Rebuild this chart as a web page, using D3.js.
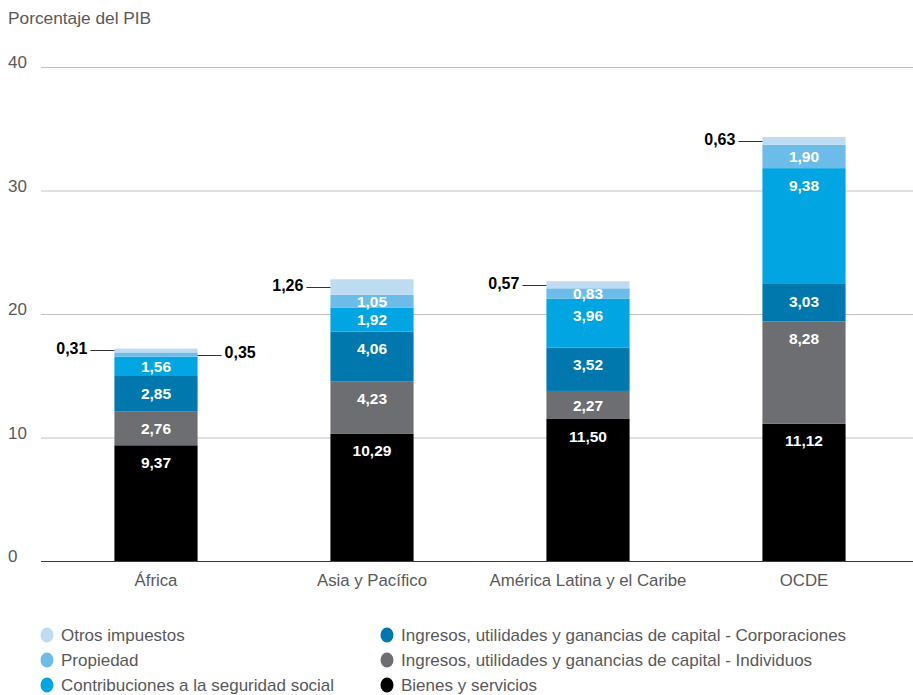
<!DOCTYPE html>
<html lang="es">
<head>
<meta charset="UTF-8">
<title>Porcentaje del PIB</title>
<style>
    body { margin: 0; background: #fff; }
    text { font-family: "Liberation Sans", Arial, sans-serif; }
</style>
</head>
<body>
<script src="https://d3js.org/d3.v7.min.js"></script>
<script>
    // data
    const categories = ["África", "Asia y Pacífico", "América Latina y el Caribe", "OCDE"];
    const bienes = [9.37, 10.29, 11.50, 11.12];
    const individuos = [2.76, 4.23, 2.27, 8.28];
    const corporaciones = [2.85, 4.06, 3.52, 3.03];
    const seguridad = [1.56, 1.92, 3.96, 9.38];
    const propiedad = [0.35, 1.05, 0.83, 1.90];
    const otros = [0.31, 1.26, 0.57, 0.63];
    const yTicks = [0, 10, 20, 30, 40];

    // stack order bottom -> top
    const series = [
        {key: "bienes", name: "Bienes y servicios", values: bienes, color: "#000000"},
        {key: "individuos", name: "Ingresos, utilidades y ganancias de capital - Individuos", values: individuos, color: "#6d6e71"},
        {key: "corporaciones", name: "Ingresos, utilidades y ganancias de capital - Corporaciones", values: corporaciones, color: "#0078ad"},
        {key: "seguridad", name: "Contribuciones a la seguridad social", values: seguridad, color: "#00a5e1"},
        {key: "propiedad", name: "Propiedad", values: propiedad, color: "#6cbce9"},
        {key: "otros", name: "Otros impuestos", values: otros, color: "#bddcf2"}
    ];

    const width = 913;
    const height = 695;
    const textGrey = "#58595b";

    const es = d3.formatLocale({decimal: ",", thousands: ".", grouping: [3], currency: ["", ""]});
    const fmt = es.format(".2f");

    const rows = categories.map((c, i) => {
        const r = {cat: c};
        series.forEach(s => r[s.key] = s.values[i]);
        return r;
    });
    const stacked = d3.stack().keys(series.map(s => s.key))(rows);

    const svg = d3.select("body").append("svg")
        .attr("width", width)
        .attr("height", height);

    const x = d3.scaleBand()
        .domain(categories)
        .range([48, 912])
        .paddingInner(0.615)
        .paddingOuter(0.3075);

    const y = d3.scaleLinear()
        .domain([0, 40])
        .range([561, 67]);

    // title
    svg.append("text")
        .attr("x", 8)
        .attr("y", 24)
        .attr("fill", textGrey)
        .style("font-size", "17.3px")
        .text("Porcentaje del PIB");

    // grid + y labels
    const grid = svg.append("g");
    grid.selectAll("line")
        .data(yTicks)
        .enter()
        .append("line")
        .attr("x1", 41)
        .attr("x2", width)
        .attr("y1", d => y(d) + 0.5)
        .attr("y2", d => y(d) + 0.5)
        .attr("stroke", d => d === 0 ? "#3a3a3a" : "#c2c2c2")
        .attr("stroke-width", 1);
    grid.selectAll("text")
        .data(yTicks)
        .enter()
        .append("text")
        .attr("x", 8)
        .attr("y", d => y(d) + 1)
        .attr("fill", textGrey)
        .style("font-size", "17px")
        .text(d => d);

    // bars
    const layers = svg.append("g").selectAll("g")
        .data(stacked)
        .enter()
        .append("g")
        .attr("fill", (d, i) => series[i].color);

    layers.selectAll("rect")
        .data(d => d)
        .enter()
        .append("rect")
        .attr("x", d => x(d.data.cat))
        .attr("y", d => y(d[1]))
        .attr("width", x.bandwidth())
        .attr("height", d => y(d[0]) - y(d[1]));

    // value labels
    const labels = svg.append("g");
    stacked.forEach((layer, si) => {
        layer.forEach(d => {
            const v = d[1] - d[0];
            const top = y(d[1]);
            const h = y(d[0]) - y(d[1]);
            const cx = x(d.data.cat);
            const mid = (y(d[0]) + y(d[1])) / 2;
            if (series[si].key === "otros" || v < 0.5) {
                // outside label with leader
                const left = series[si].key === "otros";
                const x0 = left ? cx : cx + x.bandwidth();
                const x1 = left ? x0 - 24 : x0 + 24;
                labels.append("line")
                    .attr("x1", x0).attr("x2", x1)
                    .attr("y1", Math.round(mid) + 0.5).attr("y2", Math.round(mid) + 0.5)
                    .attr("stroke", "#333")
                    .attr("stroke-width", 1);
                labels.append("text")
                    .attr("x", left ? x1 - 3 : x1 + 3)
                    .attr("y", mid - 2)
                    .attr("dy", "0.36em")
                    .attr("text-anchor", left ? "end" : "start")
                    .attr("fill", "#000")
                    .style("font-size", "16px")
                    .style("font-weight", "bold")
                    .text(fmt(v));
            } else {
                labels.append("text")
                    .attr("x", cx + x.bandwidth() / 2)
                    .attr("y", top + Math.min(h / 2, 17))
                    .attr("dy", "0.36em")
                    .attr("text-anchor", "middle")
                    .attr("fill", "#fff")
                    .style("font-size", "15.5px")
                    .style("font-weight", "bold")
                    .text(fmt(v));
            }
        });
    });

    // x axis labels
    svg.append("g")
        .attr("transform", "translate(0,561)")
        .call(d3.axisBottom(x).tickSize(0).tickPadding(13))
        .call(g => g.select(".domain").remove())
        .call(g => g.selectAll("text")
            .attr("fill", textGrey)
            .style("font-family", "'Liberation Sans', Arial, sans-serif")
            .style("font-size", "16.8px"));

    // legend
    const legendOrder = ["otros", "propiedad", "seguridad", "corporaciones", "individuos", "bienes"];
    const legend = svg.append("g");
    legendOrder.forEach((k, i) => {
        const s = series.find(t => t.key === k);
        const col = Math.floor(i / 3);
        const row = i % 3;
        const lx = col === 0 ? 47 : 387;
        const ly = 635 + row * 25;
        legend.append("ellipse")
            .attr("cx", lx)
            .attr("cy", ly)
            .attr("rx", 6.5)
            .attr("ry", 7.5)
            .attr("fill", s.color);
        legend.append("text")
            .attr("x", lx + 14)
            .attr("y", ly)
            .attr("dy", "0.36em")
            .attr("fill", textGrey)
            .style("font-size", "17px")
            .text(s.name);
    });
</script>
</body>
</html>
